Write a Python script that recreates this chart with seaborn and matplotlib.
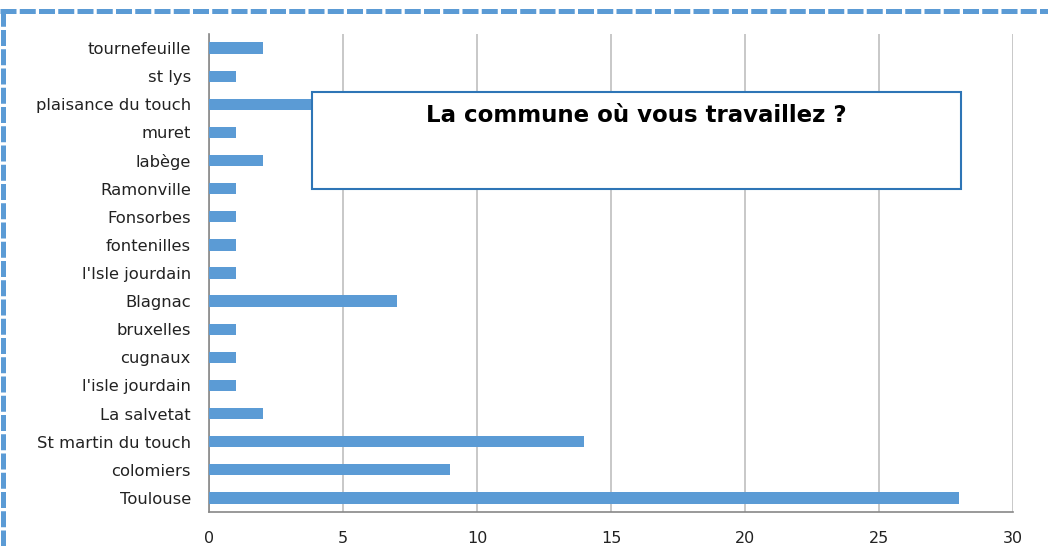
import matplotlib
matplotlib.use("Agg")
import matplotlib.pyplot as plt
import seaborn as sns
import numpy as np
from matplotlib.lines import Line2D
from matplotlib.patches import Rectangle

categories = ["tournefeuille", "st lys", "plaisance du touch", "muret", "labège",
              "Ramonville", "Fonsorbes", "fontenilles", "l'Isle jourdain", "Blagnac",
              "bruxelles", "cugnaux", "l'isle jourdain", "La salvetat",
              "St martin du touch", "colomiers", "Toulouse"]
values = [2, 1, 4, 1, 2, 1, 1, 1, 1, 7, 1, 1, 1, 2, 14, 9, 28]
xticks = [0, 5, 10, 15, 20, 25, 30]
title = "La commune où vous travaillez ?"

sns.set_theme(style="white")
plt.rcParams['font.family'] = ['DejaVu Sans']

fig = plt.figure(figsize=(10.48, 5.46), dpi=100)
W, H = 1048, 546
ax = fig.add_axes([209 / W, 1 - 512 / H, (1013 - 209) / W, (512 - 34) / H])

bar_color = "#5B9BD5"
sns.barplot(x=values, y=categories, order=categories, color=bar_color,
            width=0.4, saturation=1, ax=ax, orient="h", zorder=3, linewidth=0)

ax.set_xlim(0, 30)
ax.set_ylim(len(categories) - 0.5, -0.5)
ax.set_xticks(xticks)
ax.set_xticklabels([str(t) for t in xticks], fontsize=11.5, color="#222222")
ax.set_xlabel("")
ax.set_ylabel("")
ax.xaxis.grid(True, color="#BFBFBF", linewidth=1.2, zorder=0)
ax.set_axisbelow(True)

ax.tick_params(axis="y", which="major", length=0, labelsize=11.8, labelcolor="#222222", pad=13)
ax.set_yticks(np.arange(-0.5, len(categories), 1), minor=True)
ax.tick_params(axis="y", which="minor", length=5, color="#888888", width=1, direction="out")
ax.tick_params(axis="x", which="major", length=4, color="#999999", width=1,
               direction="out", pad=10)

ax.spines["top"].set_visible(False)
ax.spines["right"].set_visible(False)
ax.spines["left"].set_color("#888888")
ax.spines["bottom"].set_color("#888888")
ax.spines["left"].set_linewidth(1.2)
ax.spines["bottom"].set_linewidth(1.2)

# title box
bx0, by0, bx1, by1 = 312, 92, 961, 189
rect = Rectangle((bx0 / W, 1 - by1 / H), (bx1 - bx0) / W, (by1 - by0) / H,
                 transform=fig.transFigure, facecolor="white", edgecolor="#2E75B6",
                 linewidth=1.5, zorder=10)
fig.patches.append(rect)
fig.text(636 / W, 1 - 116 / H, title, ha="center", va="center",
         fontsize=16.5, fontweight="bold", color="#000000", zorder=11)

# dashed border
dash_color = "#5B9BD5"
fig.add_artist(Line2D([0, 1], [1 - 10.5 / H, 1 - 10.5 / H], transform=fig.transFigure,
                      color=dash_color, linewidth=3.6, linestyle=(0, (3.2, 0.65)), zorder=20))
fig.add_artist(Line2D([2.5 / W, 2.5 / W], [0, 1 - 13 / H], transform=fig.transFigure,
                      color=dash_color, linewidth=3.6, linestyle=(0, (3.2, 0.65)), zorder=20))

fig.savefig("out.png", dpi=100, facecolor="white")
